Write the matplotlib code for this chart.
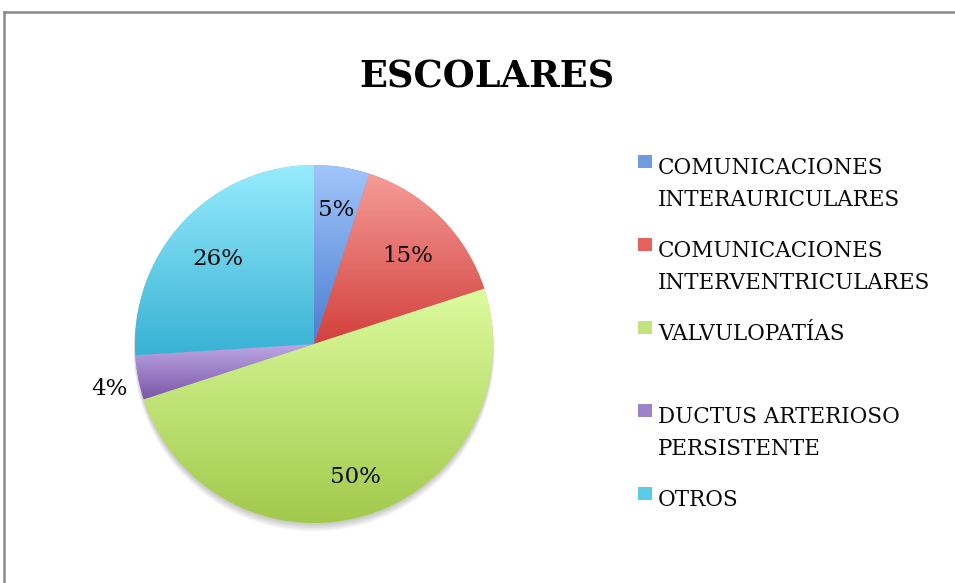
import numpy as np
import matplotlib
matplotlib.use("Agg")
import matplotlib.pyplot as plt
from matplotlib.lines import Line2D
from matplotlib.patches import Rectangle, Circle
from matplotlib.colors import LinearSegmentedColormap

# ---- data ----
title = "ESCOLARES"
categories = [
    "COMUNICACIONES\nINTERAURICULARES",
    "COMUNICACIONES\nINTERVENTRICULARES",
    "VALVULOPATÍAS",
    "DUCTUS ARTERIOSO\nPERSISTENTE",
    "OTROS",
]
values = [5, 15, 50, 4, 26]

# ---- style ----
mid_colors = ["#6f9be0", "#e4635f", "#c2e47a", "#9c82c8", "#5ccbe6"]
top_colors = ["#a2c6fb", "#f69c98", "#dcfb9e", "#bea8e6", "#98ecfd"]
bot_colors = ["#4a7ed0", "#d2403c", "#a2c94c", "#7a58a8", "#38b2d4"]
label_dist = [0.79, 0.74, 0.745, 1.165, 0.74]
FONT = "DejaVu Serif"

W, H = 955, 583
fig = plt.figure(figsize=(W / 100, H / 100), dpi=100)
fig.patch.set_facecolor("white")


def fx(px):
    return px / W


def fy(py):
    return 1 - py / H


# chart border (top and left visible)
fig.add_artist(Line2D([fx(4), 1], [fy(12), fy(12)], color="#8a8a8a", lw=1.8,
                      transform=fig.transFigure))
fig.add_artist(Line2D([fx(4), fx(4)], [fy(12), 0], color="#8a8a8a", lw=1.8,
                      transform=fig.transFigure))

# title
fig.text(fx(487), fy(87), title, ha="center", va="baseline", fontsize=26.5,
         fontweight="bold", family=FONT, color="black")

# pie
cx, cy, R = 314, 344, 179
ax = fig.add_axes([fx(cx - R), fy(cy + R), 2 * R / W, 2 * R / H])

# soft shadow
for k in range(5):
    ax.add_patch(Circle((0.0, -0.010 - 0.007 * k), 1.0 + 0.002 * k,
                        facecolor="black", alpha=0.045, lw=0, zorder=0,
                        clip_on=False))

wedges, _ = ax.pie(values, colors=mid_colors, startangle=90, counterclock=False,
                   radius=1, wedgeprops=dict(linewidth=0))

grad = np.linspace(0, 1, 256).reshape(-1, 1)
for w, tc, bc in zip(wedges, top_colors, bot_colors):
    ext = w.get_path().get_extents()
    cmap = LinearSegmentedColormap.from_list("g", [bc, tc])
    im = ax.imshow(grad, cmap=cmap, extent=[ext.x0, ext.x1, ext.y0, ext.y1],
                   origin="lower", aspect="auto", interpolation="bicubic",
                   zorder=w.get_zorder() + 0.1)
    im.set_clip_path(w)

for w, v, d in zip(wedges, values, label_dist):
    ang = np.deg2rad((w.theta1 + w.theta2) / 2)
    ax.text(d * np.cos(ang), d * np.sin(ang) - 0.02, f"{v}%", ha="center",
            va="center_baseline", fontsize=16.5, family=FONT, color="#0a0a0a",
            zorder=10)

ax.set_xlim(-1, 1)
ax.set_ylim(-1, 1)
ax.set_aspect("equal")
ax.axis("off")

# legend
for i, (lab, col) in enumerate(zip(categories, mid_colors)):
    base = 174 + 83 * i
    fig.add_artist(Rectangle((fx(638), fy(base - 6)), 14 / W, 13 / H,
                             transform=fig.transFigure, facecolor=col,
                             edgecolor="none"))
    for j, line in enumerate(lab.split("\n")):
        fig.text(fx(658), fy(base + 32 * j), line, ha="left", va="baseline",
                 fontsize=15.5, family=FONT, color="#0a0a0a")

fig.savefig("out.png", dpi=100)
